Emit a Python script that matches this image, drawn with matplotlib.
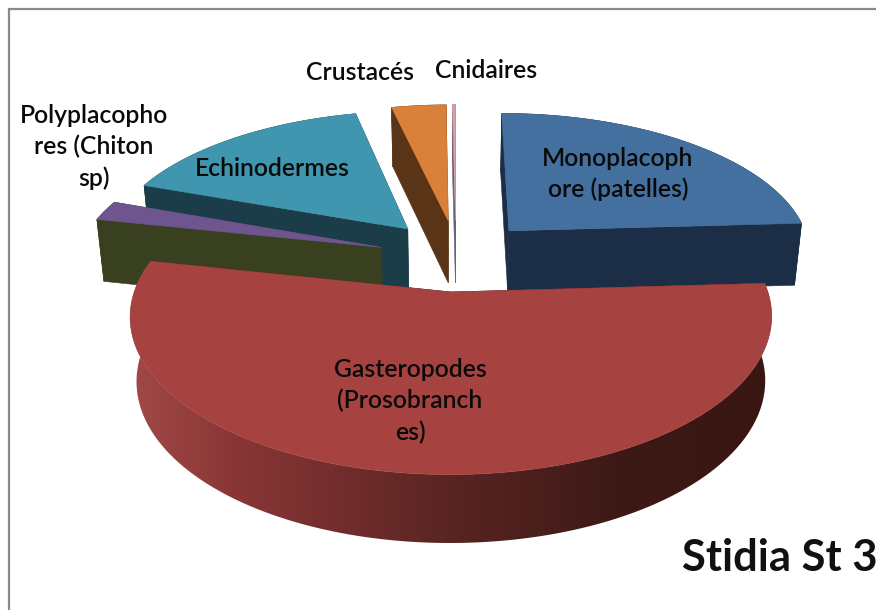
import numpy as np
import matplotlib
matplotlib.use("Agg")
import matplotlib.pyplot as plt
from matplotlib.colors import LinearSegmentedColormap
from matplotlib.patches import Polygon

# ---- data ----
categories = ["Monoplacoph\nore (patelles)", "Gasteropodes\n(Prosobranch\nes)",
              "Polyplacopho\nres (Chiton\nsp)", "Echinodermes", "Crustacés", "Cnidaires"]
shares = [24.1, 54.2, 2.2, 15.9, 3.4, 0.2]
title = "Stidia St 3"

# ---- style ----
top_colors = ["#44709F", "#A64341", "#6F5590", "#4096AE", "#D9803A", "#D9A0A4"]
side_colors = ["#1B2E46", "#4A1B18", "#384020", "#1A3D49", "#5A3416", "#6A6078"]
explode = [0.28, 0.25, 0.25, 0.25, 0.25, 0.25]
nudge = [(2, 4), (7, 0), (4, 2), (7, 0), (7, 0), (6, 0)]
label_xy = [(618, 174), (410, 401), (94, 147), (272, 169), (360, 73), (486, 70)]
draw_order = [5, 4, 0, 3, 2, 1]
CX, CY, RX, RY, K, DEPTH, SHRINK = 450, 255, 305, 142.8, 0.15, 63, 0.98

plt.rcParams["font.family"] = ["Lato", "DejaVu Sans"]
fig = plt.figure(figsize=(8.76, 6.10), dpi=100, facecolor="white")
ax = fig.add_axes([0, 0, 1, 1])
ax.set_xlim(0, 876)
ax.set_ylim(610, 0)
ax.axis("off")


def project(u, v, nx, ny):
    g = 1 / (1 + K * v)
    return CX + RX * u * g + nx, CY - RY * v * g + ny, g


def lower(x, y, g):
    return CX + (x - CX) * SHRINK, CY + (y - CY) * SHRINK + DEPTH * g ** 0.7


def poly(pts, color, z):
    ax.fill(*zip(*pts), facecolor=color, edgecolor=color, linewidth=0.4, zorder=z)


gradient = LinearSegmentedColormap.from_list(
    "wall", [(0, "#A04A47"), (0.16, "#8A3636"), (0.49, "#5A2523"), (0.75, "#3E1A16"), (1, "#3A1612")])
edges = np.cumsum([0] + shares) / sum(shares) * 2 * np.pi
for i in draw_order:
    a0, a1 = edges[i], edges[i + 1]
    mid = (a0 + a1) / 2
    ou, ov = explode[i] * np.sin(mid), explode[i] * np.cos(mid)
    th = np.linspace(a0, a1, max(int((a1 - a0) * 90), 6))
    nx, ny = nudge[i]
    ax_, ay_, ag = project(ou, ov, nx, ny)
    ux, uy, ug = project(ou + np.sin(th), ov + np.cos(th), nx, ny)
    lx, ly = lower(ux, uy, ug)
    alx, aly = lower(ax_, ay_, ag)
    z = 10 + draw_order.index(i) * 3
    side = side_colors[i]
    # radial walls
    poly([(ax_, ay_), (ux[0], uy[0]), (lx[0], ly[0]), (alx, aly)], side, z)
    poly([(ax_, ay_), (ux[-1], uy[-1]), (lx[-1], ly[-1]), (alx, aly)], side, z)
    # outer wall
    wall = list(zip(ux, uy)) + list(zip(lx[::-1], ly[::-1]))
    if i == 1:
        x0, x1 = min(p[0] for p in wall), max(p[0] for p in wall)
        ramp = np.linspace(0, 1, 512).reshape(1, -1)
        im = ax.imshow(ramp, cmap=gradient, extent=(x0, x1, 610, 0), aspect="auto",
                       zorder=z + 1, interpolation="bilinear")
        clip = Polygon(wall, closed=True, transform=ax.transData, facecolor="none",
                       edgecolor="none")
        ax.add_patch(clip)
        im.set_clip_path(clip)
        ax.set_xlim(0, 876)
        ax.set_ylim(610, 0)
    else:
        poly(wall, side, z + 1)
    # top
    poly([(ax_, ay_)] + list(zip(ux, uy)), top_colors[i], z + 2)

for name, (x, y) in zip(categories, label_xy):
    ax.text(x, y, name, ha="center", va="center", fontsize=17.8, color="#0A0A0A",
            fontweight=600, linespacing=1.42, zorder=50)

ax.text(877, 558, title, ha="right", va="center", fontsize=31.3, fontweight="bold",
        color="#111111", zorder=50)

ax.plot([9, 9, 876], [610, 9, 9], color="#8A8A8A", linewidth=1.6, zorder=60,
        solid_joinstyle="miter")

fig.savefig("out.png", dpi=100, facecolor="white")
